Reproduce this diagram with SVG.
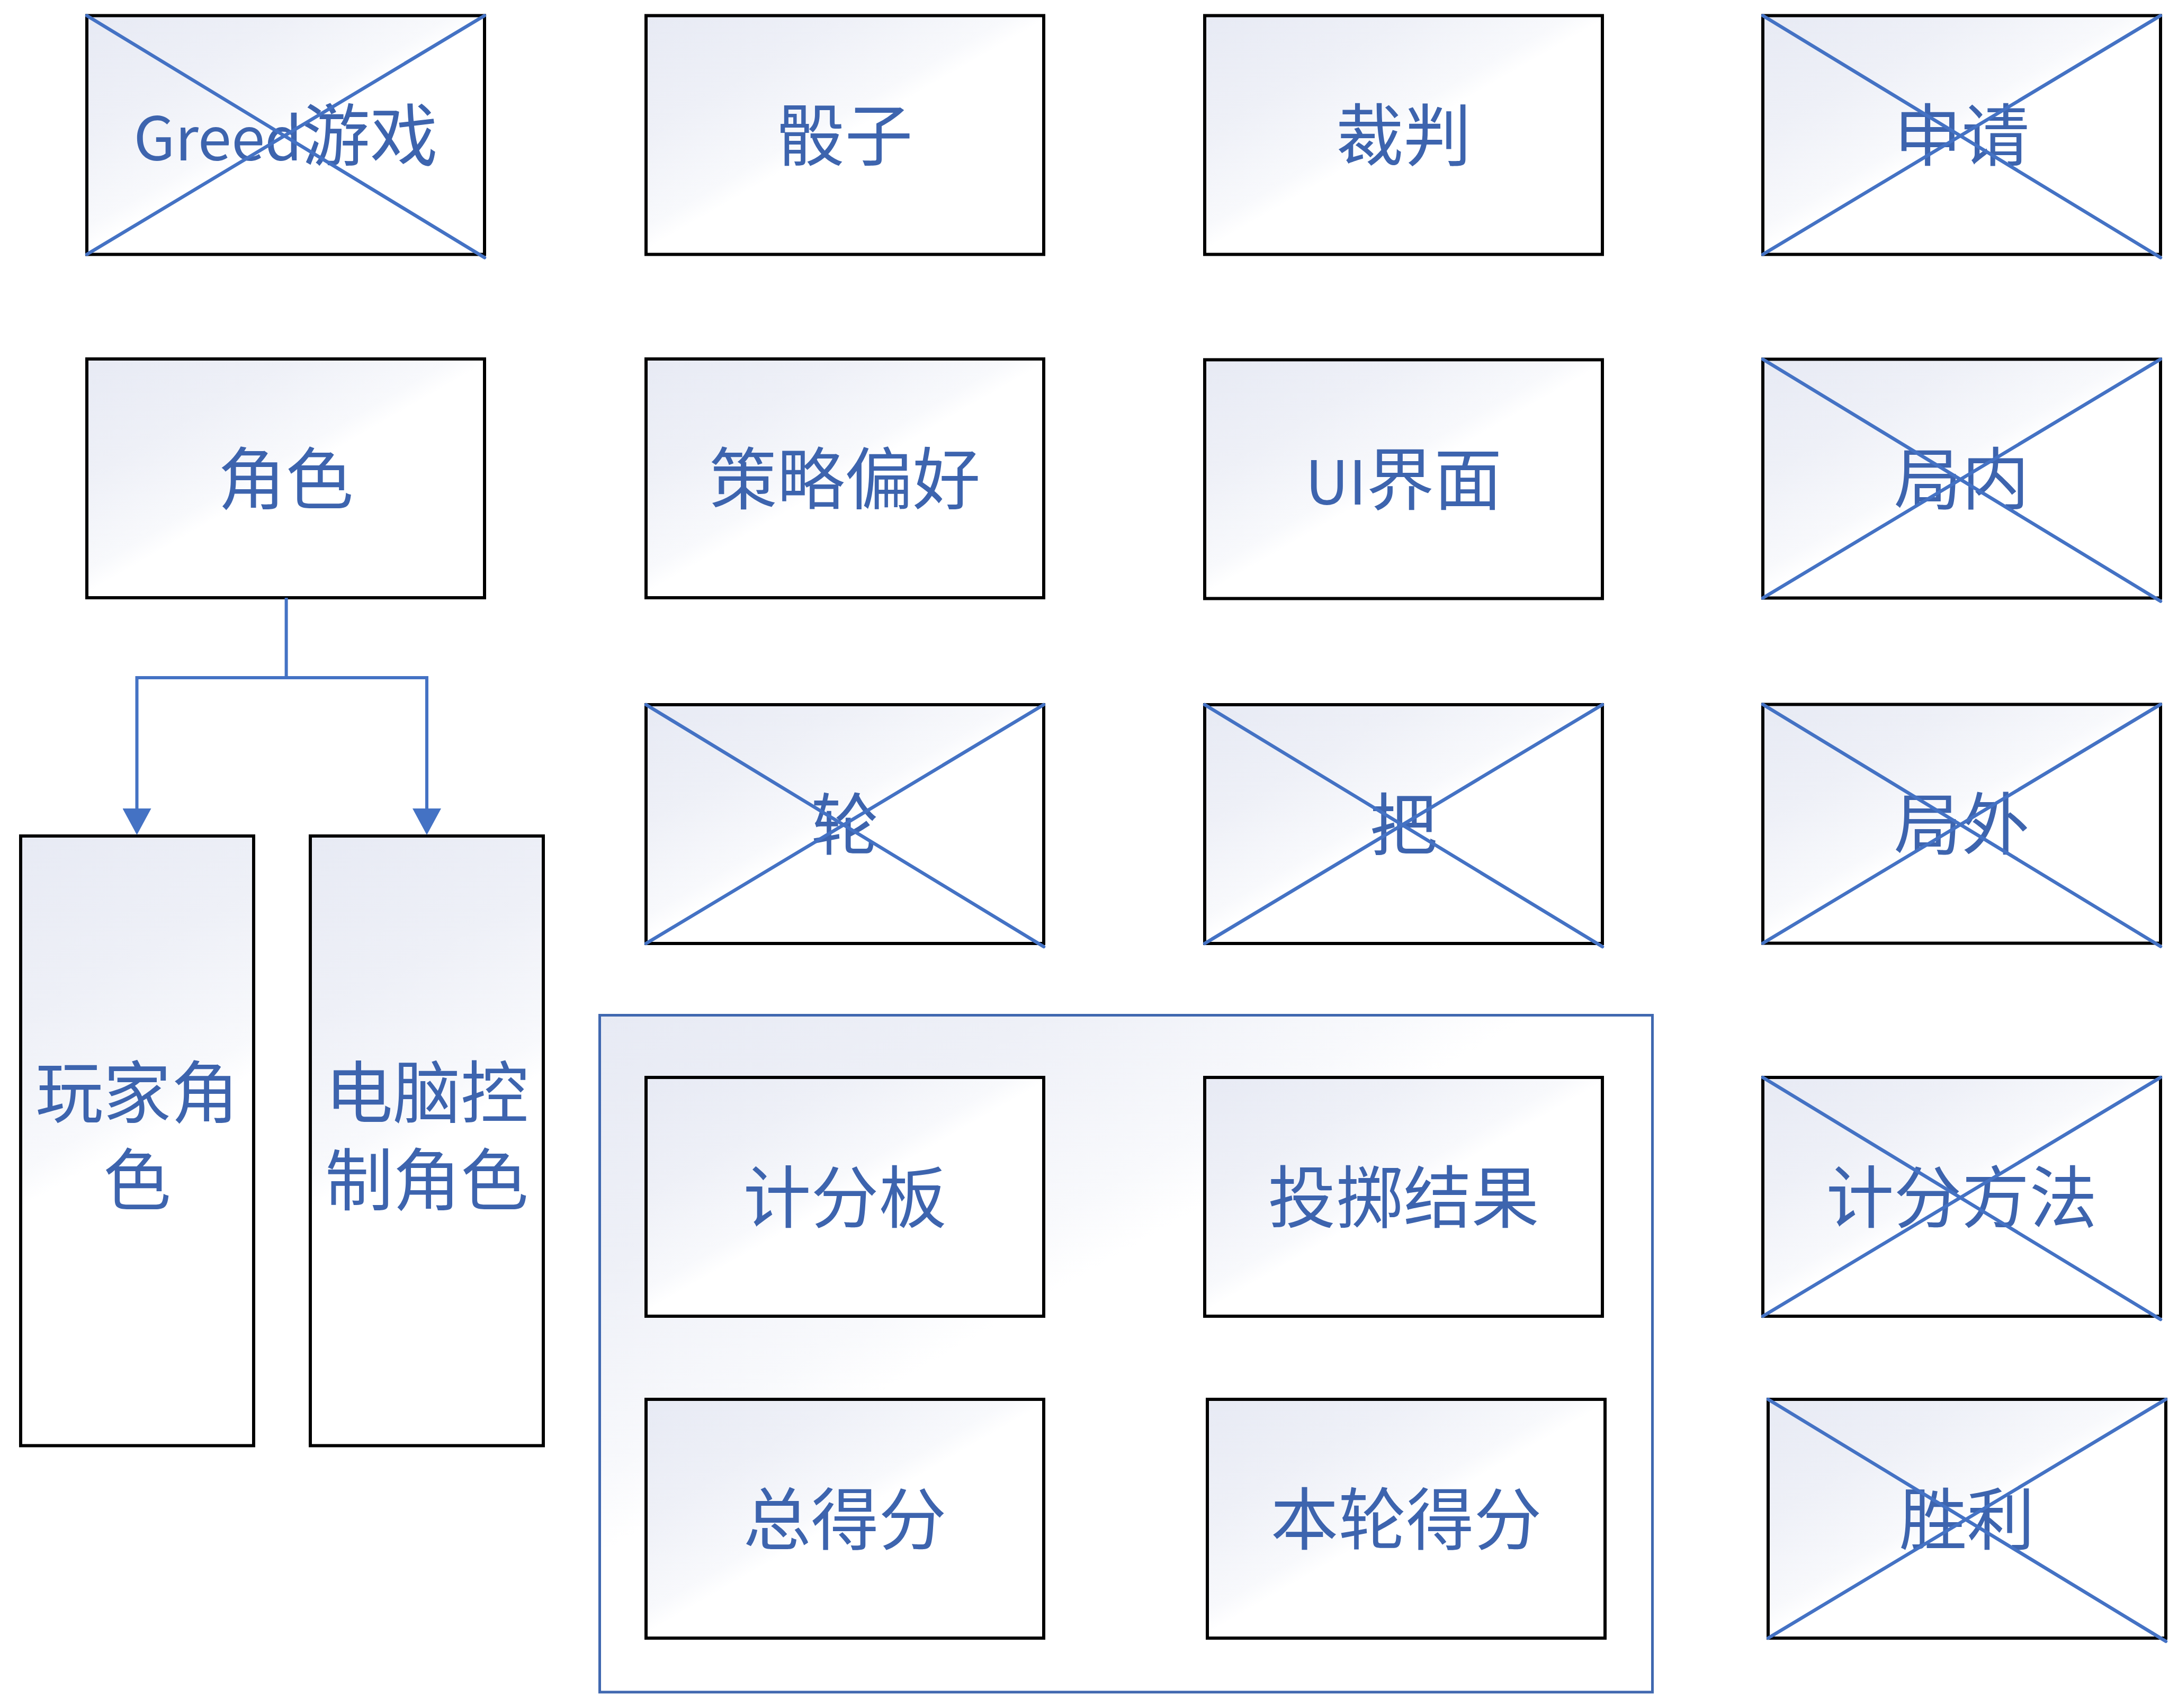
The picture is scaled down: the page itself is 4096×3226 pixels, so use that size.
<svg xmlns="http://www.w3.org/2000/svg" width="4096" height="3226" viewBox="0 0 4096 3226">
<style>
.box{stroke:#000;stroke-width:6;}
.x{stroke:#4472C4;stroke-width:6.5;stroke-linecap:round;fill:none;}
.t{font-family:"Noto Sans CJK SC","Noto Sans",sans-serif;font-size:128px;fill:#3D64AE;text-anchor:middle;}
.lat{font-size:114px;}
.conn{stroke:#4472C4;stroke-width:6;fill:none;}
</style>
<defs>
<linearGradient id="gStd" gradientUnits="userSpaceOnUse" x1="0" y1="0" x2="383" y2="664">
<stop offset="0" stop-color="#E7EAF4"/><stop offset="0.25" stop-color="#EEF0F7"/><stop offset="0.45" stop-color="#F8F9FC"/><stop offset="0.5" stop-color="#FFFFFF"/></linearGradient>
<linearGradient id="gTall" gradientUnits="userSpaceOnUse" x1="0" y1="0" x2="608" y2="1054">
<stop offset="0" stop-color="#E7EAF4"/><stop offset="0.25" stop-color="#EEF0F7"/><stop offset="0.45" stop-color="#F8F9FC"/><stop offset="0.5" stop-color="#FFFFFF"/></linearGradient>
<linearGradient id="gCont" gradientUnits="userSpaceOnUse" x1="0" y1="0" x2="1050" y2="1820">
<stop offset="0" stop-color="#E7EAF4"/><stop offset="0.2" stop-color="#EEF0F7"/><stop offset="0.36" stop-color="#F8F9FC"/><stop offset="0.42" stop-color="#FFFFFF"/></linearGradient>
<marker id="arr" viewBox="0 0 50 54" refX="0" refY="27" markerWidth="50" markerHeight="54" markerUnits="userSpaceOnUse" orient="auto">
<path d="M0,0 L50,27 L0,54 z" fill="#4472C4"/></marker>
</defs>
<rect width="4096" height="3226" fill="#FFFFFF"/>

<g id="n-container" transform="translate(1132.5,1917.5)"><rect width="1988" height="1278.5" fill="url(#gCont)" stroke="#4068B0" stroke-width="5"/></g>

<g id="n-greed" transform="translate(164,29.5)"><rect class="box" width="751" height="451" fill="url(#gStd)"/><text class="t" x="375.5" y="273.5"><tspan class="lat">Greed</tspan>游戏</text><path class="x" d="M0,0 L751,457 M751,0 L0,451"/></g>
<g id="n-dice" transform="translate(1220,29.5)"><rect class="box" width="751" height="451" fill="url(#gStd)"/><text class="t" x="375.5" y="273.5">骰子</text></g>
<g id="n-judge" transform="translate(2275,29.5)"><rect class="box" width="751" height="451" fill="url(#gStd)"/><text class="t" x="375.5" y="273.5">裁判</text></g>
<g id="n-apply" transform="translate(3329,29.5)"><rect class="box" width="751" height="451" fill="url(#gStd)"/><text class="t" x="375.5" y="273.5">申请</text><path class="x" d="M0,0 L751,457 M751,0 L0,451"/></g>

<g id="n-role" transform="translate(164,678)"><rect class="box" width="751" height="451" fill="url(#gStd)"/><text class="t" x="375.5" y="273.5">角色</text></g>
<g id="n-strategy" transform="translate(1220,678)"><rect class="box" width="751" height="451" fill="url(#gStd)"/><text class="t" x="375.5" y="273.5">策略偏好</text></g>
<g id="n-ui" transform="translate(2275,679.5)"><rect class="box" width="751" height="451" fill="url(#gStd)"/><text class="t" x="375.5" y="273.5"><tspan class="lat">UI</tspan>界面</text></g>
<g id="n-inner" transform="translate(3329,678.5)"><rect class="box" width="751" height="451" fill="url(#gStd)"/><text class="t" x="375.5" y="273.5">局内</text><path class="x" d="M0,0 L751,457 M751,0 L0,451"/></g>

<g id="n-round" transform="translate(1220,1331)"><rect class="box" width="751" height="451" fill="url(#gStd)"/><text class="t" x="375.5" y="273.5">轮</text><path class="x" d="M0,0 L751,457 M751,0 L0,451"/></g>
<g id="n-turn" transform="translate(2275,1331)"><rect class="box" width="751" height="451" fill="url(#gStd)"/><text class="t" x="375.5" y="273.5">把</text><path class="x" d="M0,0 L751,457 M751,0 L0,451"/></g>
<g id="n-outer" transform="translate(3329,1330.5)"><rect class="box" width="751" height="451" fill="url(#gStd)"/><text class="t" x="375.5" y="273.5">局外</text><path class="x" d="M0,0 L751,457 M751,0 L0,451"/></g>

<g id="n-scoreboard" transform="translate(1220,2035)"><rect class="box" width="751" height="451" fill="url(#gStd)"/><text class="t" x="375.5" y="273.5">计分板</text></g>
<g id="n-throw" transform="translate(2275,2035)"><rect class="box" width="751" height="451" fill="url(#gStd)"/><text class="t" x="375.5" y="273.5">投掷结果</text></g>
<g id="n-method" transform="translate(3329,2035)"><rect class="box" width="751" height="451" fill="url(#gStd)"/><text class="t" x="375.5" y="273.5">计分方法</text><path class="x" d="M0,0 L751,457 M751,0 L0,451"/></g>

<g id="n-total" transform="translate(1220,2643)"><rect class="box" width="751" height="451" fill="url(#gStd)"/><text class="t" x="375.5" y="273.5">总得分</text></g>
<g id="n-roundscore" transform="translate(2280,2643)"><rect class="box" width="751" height="451" fill="url(#gStd)"/><text class="t" x="375.5" y="273.5">本轮得分</text></g>
<g id="n-win" transform="translate(3339,2643)"><rect class="box" width="751" height="451" fill="url(#gStd)"/><text class="t" x="375.5" y="273.5">胜利</text><path class="x" d="M0,0 L751,457 M751,0 L0,451"/></g>

<g id="n-player" transform="translate(39,1579)"><rect class="box" width="440" height="1151.5" fill="url(#gTall)"/><text class="t"><tspan x="220" y="531.5">玩家角</tspan><tspan x="220" y="697">色</tspan></text></g>
<g id="n-computer" transform="translate(586,1579)"><rect class="box" width="440" height="1151.5" fill="url(#gTall)"/><text class="t"><tspan x="220" y="531.5">电脑控</tspan><tspan x="220" y="697">制角色</tspan></text></g>

<g id="connectors">
<path class="conn" d="M540.6,1129 V1280 H258.5 V1527" marker-end="url(#arr)"/>
<path class="conn" d="M540.6,1280 H806 V1527" marker-end="url(#arr)"/>
</g>
</svg>
